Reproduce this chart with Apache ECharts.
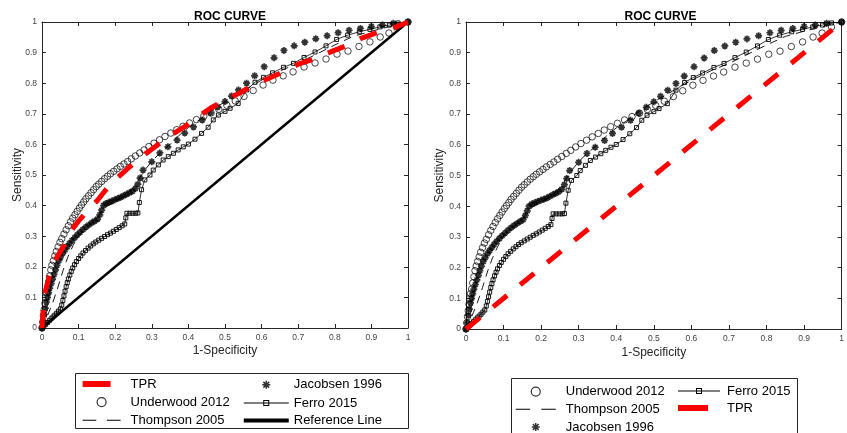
<!DOCTYPE html>
<html><head><meta charset="utf-8">
<script src="https://cdn.jsdelivr.net/npm/echarts@6/dist/echarts.min.js"></script>
<style>html,body{margin:0;padding:0;background:#fff}#c{width:847px;height:433px}</style>
</head><body><div id="c"></div>
<script>
const titleText = 'ROC CURVE';
const xName = '1-Specificity';
const yName = 'Sensitivity';
const seriesNames = ['TPR','Underwood 2012','Thompson 2005','Jacobsen 1996','Ferro 2015','Reference Line'];

const tprLeft = [[0,0],[0.005,0.1],[0.02,0.17],[0.04,0.23],[0.06,0.27],[0.075,0.31],[0.1,0.35],[0.13,0.39],[0.15,0.415],[0.18,0.46],[0.2,0.485],[0.24,0.527],[0.27,0.558],[0.31,0.593],[0.34,0.622],[0.39,0.658],[0.42,0.685],[0.46,0.718],[0.5,0.745],[0.54,0.768],[0.58,0.796],[0.62,0.816],[0.66,0.838],[0.7,0.862],[0.75,0.882],[0.79,0.903],[0.83,0.922],[0.87,0.946],[0.91,0.963],[0.96,0.98],[1,1]];
const tprRight = [[0,0],[1,1]];
const referenceLine = [[0,0],[1,1]];

const underwood = [[0,0],[0.002,0.02],[0.004,0.04],[0.006,0.06],[0.008,0.08],[0.010,0.10],[0.012,0.115],[0.015,0.13],[0.018,0.15],[0.021,0.17],[0.024,0.19],[0.027,0.205],[0.031,0.22],[0.035,0.235],[0.039,0.25],[0.044,0.265],[0.049,0.28],[0.054,0.292],[0.060,0.307],[0.066,0.321],[0.072,0.334],[0.078,0.347],[0.084,0.359],[0.090,0.37],[0.096,0.381],[0.102,0.392],[0.108,0.402],[0.114,0.412],[0.120,0.422],[0.127,0.432],[0.134,0.442],[0.141,0.452],[0.148,0.462],[0.155,0.47],[0.163,0.479],[0.171,0.488],[0.179,0.496],[0.187,0.504],[0.196,0.512],[0.205,0.52],[0.214,0.528],[0.224,0.536],[0.234,0.544],[0.244,0.553],[0.255,0.562],[0.267,0.572],[0.279,0.582],[0.292,0.593],[0.306,0.604],[0.321,0.615],[0.336,0.626],[0.352,0.637],[0.368,0.648],[0.385,0.659],[0.403,0.67],[0.422,0.681],[0.442,0.692],[0.462,0.703],[0.483,0.715],[0.505,0.728],[0.528,0.742],[0.552,0.757],[0.577,0.776],[0.604,0.794],[0.631,0.81],[0.659,0.824],[0.686,0.837],[0.716,0.853],[0.746,0.866],[0.776,0.879],[0.806,0.895],[0.836,0.905],[0.866,0.92],[0.896,0.935],[0.924,0.951],[0.948,0.964],[0.973,0.984],[1,1]];

const thompson = [[0,0],[0.01,0.025],[0.02,0.055],[0.03,0.085],[0.044,0.135],[0.058,0.19],[0.071,0.233],[0.085,0.27],[0.098,0.298],[0.115,0.322],[0.135,0.342],[0.152,0.36],[0.165,0.385],[0.178,0.398],[0.2,0.413],[0.23,0.435],[0.25,0.46],[0.262,0.48],[0.277,0.51],[0.3,0.545],[0.325,0.575],[0.35,0.6],[0.375,0.63],[0.4,0.655],[0.43,0.68],[0.46,0.708],[0.5,0.74],[0.55,0.775],[0.6,0.81],[0.65,0.84],[0.7,0.865],[0.75,0.895],[0.8,0.925],[0.85,0.953],[0.9,0.97],[0.95,0.985],[1,1]];

const jacobsen = [[0,0],[0.003,0.02],[0.006,0.045],[0.009,0.065],[0.012,0.085],[0.015,0.1],[0.018,0.115],[0.021,0.13],[0.025,0.145],[0.029,0.16],[0.033,0.175],[0.037,0.19],[0.041,0.205],[0.046,0.22],[0.051,0.232],[0.057,0.245],[0.063,0.256],[0.069,0.266],[0.075,0.276],[0.082,0.286],[0.089,0.295],[0.096,0.304],[0.104,0.313],[0.112,0.322],[0.120,0.33],[0.128,0.337],[0.136,0.344],[0.144,0.35],[0.152,0.356],[0.158,0.37],[0.163,0.385],[0.168,0.4],[0.175,0.407],[0.183,0.411],[0.191,0.415],[0.199,0.419],[0.207,0.423],[0.215,0.427],[0.223,0.432],[0.231,0.437],[0.239,0.442],[0.247,0.447],[0.255,0.455],[0.262,0.47],[0.268,0.49],[0.276,0.516],[0.300,0.543],[0.322,0.572],[0.344,0.592],[0.369,0.614],[0.390,0.637],[0.414,0.657],[0.438,0.68],[0.46,0.703],[0.48,0.722],[0.5,0.74],[0.518,0.758],[0.537,0.778],[0.559,0.8],[0.581,0.824],[0.607,0.854],[0.634,0.883],[0.661,0.907],[0.689,0.922],[0.718,0.934],[0.748,0.945],[0.779,0.955],[0.809,0.965],[0.839,0.973],[0.87,0.979],[0.9,0.985],[0.93,0.99],[0.96,0.996],[1,1]];

const ferro = [[0,0],[0.005,0.006],[0.01,0.012],[0.015,0.018],[0.02,0.024],[0.025,0.03],[0.03,0.036],[0.035,0.042],[0.04,0.048],[0.045,0.055],[0.05,0.062],[0.054,0.075],[0.057,0.09],[0.06,0.105],[0.063,0.12],[0.066,0.135],[0.069,0.148],[0.072,0.16],[0.076,0.173],[0.08,0.185],[0.084,0.196],[0.089,0.207],[0.094,0.217],[0.1,0.227],[0.106,0.236],[0.112,0.245],[0.119,0.253],[0.126,0.261],[0.133,0.268],[0.14,0.275],[0.147,0.281],[0.155,0.287],[0.163,0.293],[0.171,0.299],[0.179,0.305],[0.187,0.31],[0.195,0.316],[0.203,0.322],[0.211,0.328],[0.219,0.334],[0.226,0.34],[0.229,0.36],[0.232,0.375],[0.24,0.375],[0.248,0.375],[0.256,0.375],[0.262,0.376],[0.266,0.41],[0.272,0.452],[0.281,0.484],[0.295,0.5],[0.304,0.516],[0.318,0.533],[0.331,0.549],[0.345,0.56],[0.359,0.571],[0.372,0.582],[0.386,0.592],[0.4,0.601],[0.418,0.617],[0.436,0.636],[0.454,0.656],[0.468,0.68],[0.482,0.696],[0.5,0.708],[0.514,0.718],[0.536,0.734],[0.559,0.778],[0.582,0.803],[0.605,0.819],[0.63,0.834],[0.66,0.852],[0.687,0.865],[0.716,0.884],[0.746,0.902],[0.776,0.922],[0.805,0.943],[0.835,0.957],[0.867,0.968],[0.896,0.976],[0.923,0.984],[0.949,0.99],[0.973,0.997],[1,1]];

const FONT = 'Liberation Sans, Arial, Helvetica, sans-serif';
const AX = '#262626';
const asteriskPath = 'path://M5 0V10M0 5H10M1.6 1.6L8.4 8.4M8.4 1.6L1.6 8.4';

function xAxes(g, gap) {
  return [
    {gridIndex:g, type:'value', min:0, max:1, interval:0.1, position:'bottom',
     name:xName, nameLocation:'middle', nameGap:gap, nameMoveOverlap:false,
     nameTextStyle:{fontSize:12, color:AX, fontFamily:FONT},
     axisLine:{onZero:false, lineStyle:{color:AX, width:1}},
     axisTick:{inside:true, length:4, lineStyle:{color:AX}},
     axisLabel:{fontSize:8.5, color:'#444', margin:5, fontFamily:FONT},
     splitLine:{show:false}},
    {gridIndex:g, type:'value', min:0, max:1, interval:0.1, position:'top',
     axisLine:{onZero:false, lineStyle:{color:AX, width:1}},
     axisTick:{inside:true, length:4, lineStyle:{color:AX}},
     axisLabel:{show:false}, splitLine:{show:false}}
  ];
}
function yAxes(g, gap) {
  return [
    {gridIndex:g, type:'value', min:0, max:1, interval:0.1, position:'left',
     name:yName, nameLocation:'middle', nameGap:gap, nameRotate:90, nameMoveOverlap:false,
     nameTextStyle:{fontSize:12, color:AX, fontFamily:FONT},
     axisLine:{onZero:false, lineStyle:{color:AX, width:1}},
     axisTick:{inside:true, length:4, lineStyle:{color:AX}},
     axisLabel:{fontSize:8.5, color:'#444', margin:5, fontFamily:FONT},
     splitLine:{show:false}},
    {gridIndex:g, type:'value', min:0, max:1, interval:0.1, position:'right',
     axisLine:{onZero:false, lineStyle:{color:AX, width:1}},
     axisTick:{inside:true, length:4, lineStyle:{color:AX}},
     axisLabel:{show:false}, splitLine:{show:false}}
  ];
}

function underwoodS(xi, yi) {
  return {name:seriesNames[1], type:'scatter', xAxisIndex:xi, yAxisIndex:yi, data:underwood,
    symbol:'circle', symbolSize:6.5, clip:false, z:3,
    itemStyle:{color:'rgba(0,0,0,0)', borderColor:'#000', borderWidth:0.9}};
}
function thompsonS(xi, yi) {
  return {name:seriesNames[2], type:'line', xAxisIndex:xi, yAxisIndex:yi, data:thompson,
    symbol:'none', z:3, lineStyle:{color:'#000', width:0.9, type:[8,6]}, itemStyle:{color:'#000'}};
}
function jacobsenS(xi, yi) {
  return {name:seriesNames[3], type:'scatter', xAxisIndex:xi, yAxisIndex:yi, data:jacobsen,
    symbol:asteriskPath, symbolSize:7, clip:false, z:3,
    itemStyle:{color:'#000', borderColor:'#000', borderWidth:1.7}};
}
function ferroS(xi, yi) {
  return {name:seriesNames[4], type:'line', xAxisIndex:xi, yAxisIndex:yi, data:ferro,
    symbol:'rect', symbolSize:4, showSymbol:true, showAllSymbol:true, clip:false, z:3,
    lineStyle:{color:'#000', width:0.8},
    itemStyle:{color:'rgba(0,0,0,0)', borderColor:'#000', borderWidth:0.9}};
}
function tprS(xi, yi, data) {
  return {name:seriesNames[0], type:'line', xAxisIndex:xi, yAxisIndex:yi, data:data,
    symbol:'none', z:6, lineStyle:{color:'#ff0000', width:5, type:[18,17], cap:'butt'},
    itemStyle:{color:'#ff0000'}};
}

const legendText = {fontSize:13, color:'#000', fontFamily:FONT};
const frame = (w) => 'path://M0 0M' + w + ' 14';
const circleIcon = (w) => frame(w) + 'M' + (w/2+4.5) + ' 7A4.5 4.5 0 1 1 ' + (w/2-4.5) + ' 7A4.5 4.5 0 1 1 ' + (w/2+4.5) + ' 7Z';
const starIcon = (w) => frame(w) + 'M' + (w/2) + ' 3V11M' + (w/2-4) + ' 7H' + (w/2+4) + 'M' + (w/2-2.9) + ' 4.1L' + (w/2+2.9) + ' 9.9M' + (w/2+2.9) + ' 4.1L' + (w/2-2.9) + ' 9.9';
const barIcon = (w, bw, h) => frame(w) + 'M0 ' + (7-h/2) + 'H' + bw + 'V' + (7+h/2) + 'H0Z';
const dashIcon = (w) => frame(w) + 'M0 6.5H' + (w*0.36) + 'V7.5H0ZM' + (w*0.64) + ' 6.5H' + w + 'V7.5H' + (w*0.64) + 'Z';
const ferroIcon = (w) => { const c = w/2; return frame(w) + 'M0 6.6H' + w + 'V7.4H0Z' +
  'M' + (c-3) + ' 4H' + (c+3) + 'V10H' + (c-3) + 'Z' +
  'M' + (c-2) + ' 5V9H' + (c+2) + 'V5Z'; };
const ringStyle = {color:'rgba(0,0,0,0)', borderColor:'#000', borderWidth:1.2};
const starStyle = {color:'#000', borderColor:'#000', borderWidth:1.5};
const solidBlack = {color:'#000', borderWidth:0};

const option = {
  animation:false,
  backgroundColor:'#fff',
  title:[
    {text:titleText, left:225, top:6, textAlign:'center', textStyle:{fontSize:12, fontWeight:'bold', color:'#000', fontFamily:FONT}},
    {text:titleText, left:655.5, top:6, textAlign:'center', textStyle:{fontSize:12, fontWeight:'bold', color:'#000', fontFamily:FONT}}
  ],
  grid:[
    {left:42, top:22, width:366, height:306},
    {left:466, top:22, width:379, height:307}
  ],
  xAxis:[...xAxes(0,17), ...xAxes(1,18)],
  yAxis:[...yAxes(0,18), ...yAxes(1,20)],
  legend:[
    {left:82, top:377, height:70, orient:'vertical', itemWidth:38, itemHeight:14, itemGap:3.5, padding:0, selectedMode:false,
     textStyle:Object.assign({padding:[0,0,0,5]}, legendText),
     data:[{name:seriesNames[0], icon:barIcon(38,28,6), itemStyle:{color:'#ff0000', borderWidth:0}},
           {name:seriesNames[1], icon:circleIcon(38), itemStyle:ringStyle},
           {name:seriesNames[2], icon:dashIcon(38), itemStyle:solidBlack}]},
    {left:243, top:377, height:70, orient:'vertical', itemWidth:45, itemHeight:14, itemGap:3.5, padding:0, selectedMode:false,
     textStyle:legendText,
     data:[{name:seriesNames[3], icon:starIcon(45), itemStyle:starStyle},
           {name:seriesNames[4], icon:ferroIcon(45), itemStyle:solidBlack},
           {name:seriesNames[5], icon:barIcon(45,45,4), itemStyle:solidBlack}]},
    {left:515, top:384, height:70, orient:'vertical', itemWidth:40, itemHeight:14, itemGap:3, padding:0, selectedMode:false,
     textStyle:Object.assign({padding:[0,0,0,5]}, legendText),
     data:[{name:seriesNames[1], icon:circleIcon(40), itemStyle:ringStyle},
           {name:seriesNames[2], icon:dashIcon(40), itemStyle:solidBlack},
           {name:seriesNames[3], icon:starIcon(40), itemStyle:starStyle}]},
    {left:678, top:384, height:70, orient:'vertical', itemWidth:42, itemHeight:14, itemGap:3, padding:0, selectedMode:false,
     textStyle:Object.assign({padding:[0,0,0,2]}, legendText),
     data:[{name:seriesNames[4], icon:ferroIcon(42), itemStyle:solidBlack},
           {name:seriesNames[0], icon:barIcon(42,30,6), itemStyle:{color:'#ff0000', borderWidth:0}}]}
  ],
  graphic:[
    {type:'rect', shape:{x:75.5, y:373.5, width:333, height:55}, style:{fill:'none', stroke:AX, lineWidth:1}, z:-1},
    {type:'rect', shape:{x:511.5, y:378.5, width:286, height:60}, style:{fill:'none', stroke:AX, lineWidth:1}, z:-1}
  ],
  series:[
    {name:seriesNames[5], type:'line', xAxisIndex:0, yAxisIndex:0, data:referenceLine, symbol:'none', z:2,
     lineStyle:{color:'#000', width:2.5}, itemStyle:{color:'#000'}},
    underwoodS(0,0), thompsonS(0,0), jacobsenS(0,0), ferroS(0,0), tprS(0,0,tprLeft),
    underwoodS(2,2), thompsonS(2,2), jacobsenS(2,2), ferroS(2,2), tprS(2,2,tprRight)
  ]
};
const chart = echarts.init(document.getElementById('c'), null, {renderer:'canvas'});
chart.setOption(option);
</script>
</body></html>
